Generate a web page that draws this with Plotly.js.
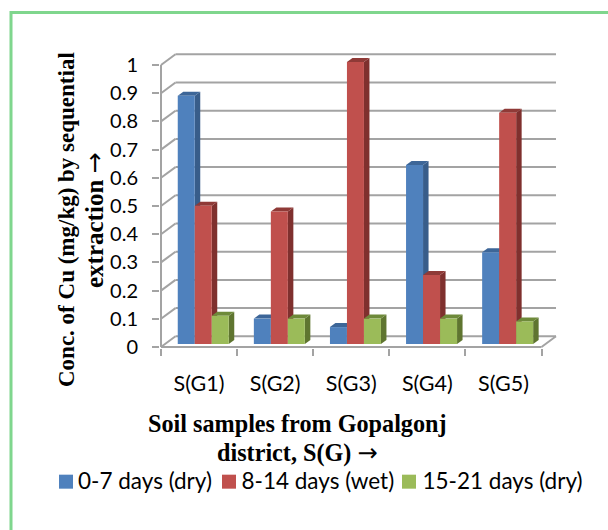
<!DOCTYPE html>
<html><head><meta charset="utf-8">
<script src="https://cdn.plot.ly/plotly-3.0.1.min.js"></script>
<style>html,body{margin:0;padding:0;background:#fff}</style></head>
<body><div id="chart" style="width:608px;height:530px"></div>
<script>
var categories = ["S(G1)","S(G2)","S(G3)","S(G4)","S(G5)"];
var seriesNames = ["0-7 days (dry)","8-14 days (wet)","15-21 days (dry)"];
var dry1 = [0.88,0.09,0.06,0.635,0.325];
var wet  = [0.49,0.47,1.00,0.245,0.82];
var dry2 = [0.10,0.09,0.09,0.09,0.08];
var yTicks = [0,0.1,0.2,0.3,0.4,0.5,0.6,0.7,0.8,0.9,1];
var frontColors = ["#4F81BD","#C0504D","#9BBB59"];
var sideColors  = ["#385D8A","#7F302E","#5F7530"];
var topColors   = ["#3D6698","#8F3A37","#6E8A3A"];

var W=608,H=530;
var pxCat=76.1, pxUnit=282;
var x0=161, y0=347;
var left=160, right=560, top_=48, bottom=348;
var xr=[-0.5-(x0-left)/pxCat, -0.5+(right-x0)/pxCat];
var yr=[-(bottom-y0)/pxUnit, (y0-top_)/pxUnit];
var wallDx=14.5/pxCat, wallDy=10.7/pxUnit;
var barDx=5.5/pxCat, barDy=4/pxUnit;
var lift=3/pxUnit;
var barW=17/pxCat, firstOff=-21.3/pxCat;
var grey="#A3A3A3";
var all=[dry1,wet,dry2];

function seg(a,b,c,d){return {type:"line",xref:"x",yref:"y",x0:a,y0:b,x1:c,y1:d,layer:"below",line:{color:grey,width:2}};}
function poly(p,col){return {type:"path",xref:"x",yref:"y",layer:"below",fillcolor:col,line:{width:0},
  path:"M"+p.map(function(q){return q[0]+","+q[1];}).join("L")+"Z"};}
function px(p){return (p-left)/(right-left);}
function py(p){return (bottom-p)/(bottom-top_);}

var shapes=[];
var frame="#7FD68D";
shapes.push({type:"line",xref:"paper",yref:"paper",x0:px(11),x1:px(620),y0:py(12.5),y1:py(12.5),layer:"below",line:{color:frame,width:3}});
shapes.push({type:"line",xref:"paper",yref:"paper",x0:px(11),x1:px(11),y0:py(11),y1:py(540),layer:"below",line:{color:frame,width:3}});
var e0=-0.5,e1=categories.length-0.5;
yTicks.forEach(function(v){
  shapes.push(seg(e0+wallDx,v+wallDy,e1+wallDx,v+wallDy));
  shapes.push(seg(e0,v,e0+wallDx,v+wallDy));
});
shapes.push(seg(e1,0,e1+wallDx,wallDy));
shapes.push(seg(e0,0,e1,0));
shapes.push(seg(e0,0,e0,1));
categories.forEach(function(c,i){
  all.forEach(function(vals,s){
    var xa=i+firstOff+s*barW, xb=xa+barW, yb=lift, yt=lift+vals[i];
    shapes.push(poly([[xb,yb],[xb+barDx,yb+barDy],[xb+barDx,yt+barDy],[xb,yt]],sideColors[s]));
    shapes.push(poly([[xa,yt],[xb,yt],[xb+barDx,yt+barDy],[xa+barDx,yt+barDy]],topColors[s]));
  });
});

var traces=all.map(function(vals,s){
  return {type:"bar",name:seriesNames[s],x:categories,y:vals,
    base:categories.map(function(){return lift;}),
    width:barW,offset:firstOff+s*barW,
    marker:{color:frontColors[s],line:{width:0}},hoverinfo:"skip",cliponaxis:false};
});

function note(t,xp,yp,size,ang){return {text:t,xref:"paper",yref:"paper",x:px(xp),y:py(yp),xanchor:"center",yanchor:"middle",
  showarrow:false,textangle:ang||0,font:{family:"Liberation Serif",size:size,color:"#000",weight:700}};}
var arrow='<span style="font-family:\'DejaVu Sans\';font-weight:400">→</span>';

var layout={width:W,height:H,paper_bgcolor:"#fff",plot_bgcolor:"rgba(0,0,0,0)",
  margin:{l:left,r:W-right,t:top_,b:H-bottom,pad:0},
  barmode:"overlay",showlegend:true,shapes:shapes,
  font:{family:"Lato",color:"#000"},
  xaxis:{type:"category",range:xr,tickson:"boundaries",ticks:"outside",ticklen:7,tickwidth:2,tickcolor:grey,
    showgrid:false,zeroline:false,showline:false,tickfont:{family:"Lato",size:21.5,color:"#000"},ticklabelstandoff:20,
    tickmode:"array",tickvals:categories,ticktext:categories},
  yaxis:{range:yr,tickmode:"array",tickvals:yTicks,ticktext:yTicks.map(String),ticks:"outside",ticklen:7,tickwidth:2,tickcolor:grey,
    showgrid:false,zeroline:false,showline:false,tickfont:{family:"Lato",size:20,color:"#000"},ticklabelstandoff:10},
  legend:{orientation:"h",xanchor:"left",yanchor:"middle",x:px(30),y:py(482),font:{family:"Lato",size:19.5,color:"#000"},
    bgcolor:"rgba(0,0,0,0)",traceorder:"normal",itemclick:false,itemdoubleclick:false},
  annotations:[
    note("Conc. of Cu (mg/kg) by sequential",67,220,23,-90),
    note("extraction "+arrow,95,220,25,-90),
    note("Soil samples from Gopalgonj",297,423,24.2),
    note("district, S(G) "+arrow,297,453,24.2)
  ]};
var swatchLeft=[59,222,402], textLeft=[78,241.5,422.5], legendTextSize=22.5;
Plotly.newPlot("chart",traces,layout,{displayModeBar:false,staticPlot:true}).then(function(){
  var leg=document.querySelector(".legend");
  leg.querySelectorAll("[clip-path]").forEach(function(n){n.removeAttribute("clip-path");});
  leg.querySelectorAll(".traces").forEach(function(g,i){
    var m=/translate\(([-\d.]+),\s*([-\d.]+)\)/.exec(g.getAttribute("transform"));
    var p=g.querySelector(".legendpoints path");
    p.setAttribute("d","M7,7H-7V-7H7Z");
    var sw=p.getBoundingClientRect();
    var nx=parseFloat(m[1])+swatchLeft[i]-sw.left;
    g.setAttribute("transform","translate("+nx+","+m[2]+")");
    var t=g.querySelector(".legendtext");
    t.style.fontSize=legendTextSize+"px";
    var tb=t.getBoundingClientRect();
    t.setAttribute("x",parseFloat(t.getAttribute("x"))+textLeft[i]-tb.left);
  });
});
</script></body></html>
